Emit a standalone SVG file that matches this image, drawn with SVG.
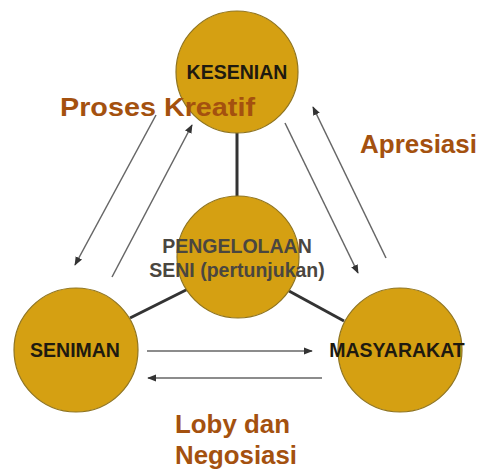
<svg xmlns="http://www.w3.org/2000/svg" width="479" height="474" viewBox="0 0 479 474">
<style>
.node{fill:#d5a012;stroke:#8f7420;stroke-width:1.2}
.nt{font-family:"Liberation Sans",Arial,sans-serif;font-weight:bold;font-size:19.5px;fill:#1e1a10;text-anchor:middle}
.ct{fill:#4a4640}
.lbl{font-family:"Liberation Sans",Arial,sans-serif;font-weight:bold;font-size:26px;fill:#a4510f}
.link{stroke:#333;stroke-width:3;fill:none}
.arr{stroke:#666;stroke-width:1.5;fill:none;marker-end:url(#ah)}
</style>
<defs>
<marker id="ah" viewBox="0 0 10 10" refX="9" refY="5" markerWidth="6" markerHeight="6" markerUnits="strokeWidth" orient="auto">
<path d="M0,1 L10,5 L0,9 Z" fill="#333"/>
</marker>
</defs>
<rect width="479" height="474" fill="#fff"/>
<g id="connectors">
<line class="link" x1="237" y1="132" x2="237" y2="197"/>
<line class="link" x1="130" y1="318" x2="188" y2="289"/>
<line class="link" x1="289" y1="291" x2="344" y2="321"/>
<line class="arr" x1="156" y1="115" x2="75" y2="265"/>
<line class="arr" x1="112" y1="277" x2="192" y2="125"/>
<line class="arr" x1="285" y1="123" x2="358" y2="273"/>
<line class="arr" x1="386" y1="258" x2="313" y2="107"/>
<line class="arr" x1="147" y1="351" x2="312" y2="351"/>
<line class="arr" x1="322" y1="378" x2="148" y2="378"/>
</g>
<g id="kesenian">
<circle class="node" cx="237" cy="72" r="61"/>
<text class="nt" x="237" y="79">KESENIAN</text>
</g>
<g id="pengelolaan">
<circle class="node" cx="238" cy="257" r="61"/>
<text class="nt ct" x="237" y="253">PENGELOLAAN</text>
<text class="nt ct" x="237" y="277">SENI (pertunjukan)</text>
</g>
<g id="seniman">
<circle class="node" cx="76" cy="350" r="62"/>
<text class="nt" x="75" y="357">SENIMAN</text>
</g>
<g id="masyarakat">
<circle class="node" cx="400" cy="350" r="62"/>
<text class="nt" x="397" y="357">MASYARAKAT</text>
</g>
<g id="labels">
<text class="lbl" x="60" y="116" textLength="195" lengthAdjust="spacingAndGlyphs">Proses Kreatif</text>
<text class="lbl" x="360" y="153" textLength="117" lengthAdjust="spacingAndGlyphs">Apresiasi</text>
<text class="lbl" x="175" y="433" textLength="115" lengthAdjust="spacingAndGlyphs">Loby dan</text>
<text class="lbl" x="175" y="464" textLength="122" lengthAdjust="spacingAndGlyphs">Negosiasi</text>
</g>
</svg>
